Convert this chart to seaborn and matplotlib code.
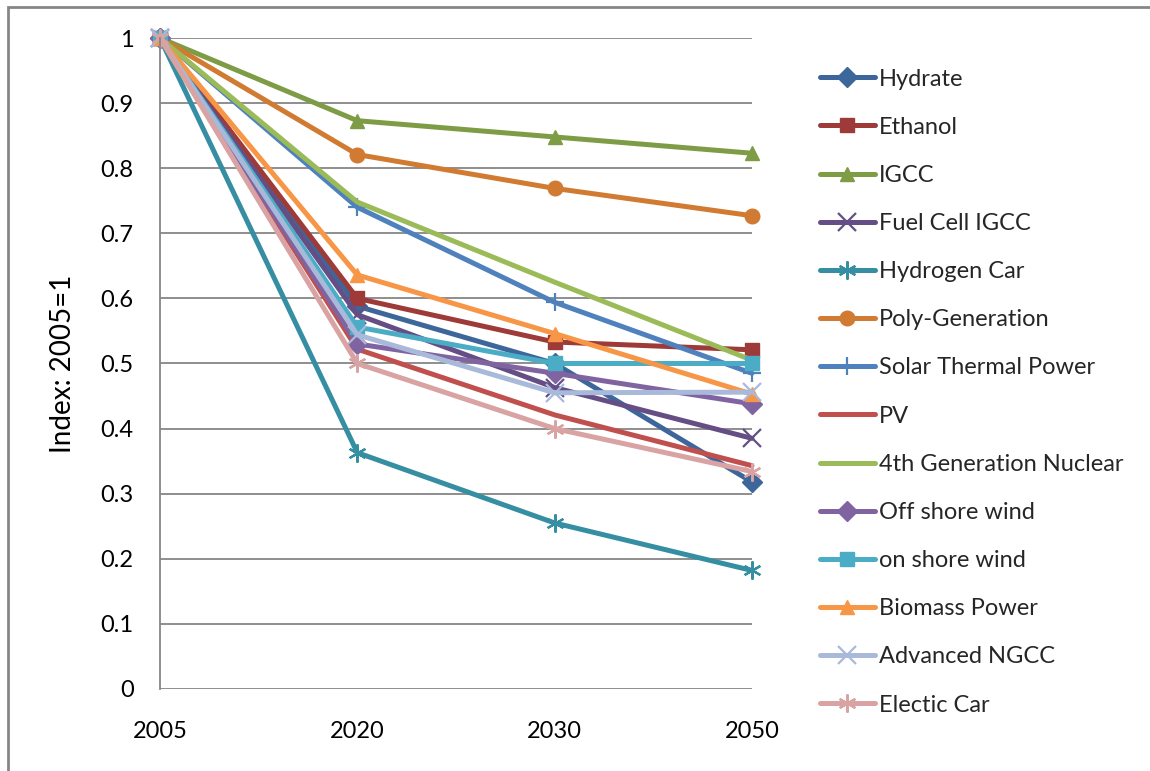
#!/usr/bin/env python3

"""
Cost index of low-carbon technologies, 2005-2050 (2005 = 1).
Draws the line chart with seaborn and saves it as out.png.
"""

import matplotlib
matplotlib.use("Agg")

import matplotlib.pyplot as plt
import pandas as pd
import seaborn as sns
from matplotlib.patches import Rectangle

sns.set_theme(style="white")
plt.rcParams["font.family"] = ["Lato", "DejaVu Sans"]

# --- Data ---
years = ["2005", "2020", "2030", "2050"]

hydrate = [1.0, 0.588, 0.500, 0.318]
ethanol = [1.0, 0.600, 0.533, 0.521]
igcc = [1.0, 0.873, 0.848, 0.823]
fuel_cell_igcc = [1.0, 0.575, 0.463, 0.385]
hydrogen_car = [1.0, 0.363, 0.255, 0.182]
poly_generation = [1.0, 0.821, 0.769, 0.727]
solar_thermal = [1.0, 0.740, 0.594, 0.485]
pv = [1.0, 0.522, 0.421, 0.343]
nuclear_4th = [1.0, 0.748, 0.625, 0.505]
off_shore_wind = [1.0, 0.530, 0.485, 0.438]
on_shore_wind = [1.0, 0.556, 0.500, 0.500]
biomass_power = [1.0, 0.636, 0.546, 0.453]
advanced_ngcc = [1.0, 0.544, 0.455, 0.456]
electric_car = [1.0, 0.500, 0.400, 0.334]

series_names = [
    "Hydrate", "Ethanol", "IGCC", "Fuel Cell IGCC", "Hydrogen Car",
    "Poly-Generation", "Solar Thermal Power", "PV",
    "4th Generation Nuclear", "Off shore wind", "on shore wind",
    "Biomass Power", "Advanced NGCC", "Electic Car",
]
series_values = [
    hydrate, ethanol, igcc, fuel_cell_igcc, hydrogen_car, poly_generation,
    solar_thermal, pv, nuclear_4th, off_shore_wind, on_shore_wind,
    biomass_power, advanced_ngcc, electric_car,
]

# Excel-like series styling
colors = [
    "#3D679A", "#9E3B38", "#7E9C45", "#654E85", "#368EA3", "#D17A31",
    "#4F81BD", "#C0504D", "#9BBB59", "#8064A2", "#4BACC6", "#F79646",
    "#A8B9DA", "#D8A3A2",
]
markers = [
    "D", "s", "^", "x", (6, 2, 0), "o",
    "+", None, None, "D", "s", "^",
    "x", (6, 2, 0),
]

# Long table for seaborn
rows = []
for name, vals in zip(series_names, series_values):
    for i, v in enumerate(vals):
        rows.append({"series": name, "pos": i, "value": v})
df = pd.DataFrame(rows)

fig = plt.figure(figsize=(11.5, 7.71), dpi=100)
ax = fig.add_axes([0.1391, 0.1064, 0.5148, 0.8443])

for name, color, marker in zip(series_names, colors, markers):
    sub = df[df["series"] == name]
    thin = marker in ("x", "+") or isinstance(marker, tuple)
    sns.lineplot(
        data=sub, x="pos", y="value", ax=ax, color=color, label=name,
        linewidth=3.6, marker=marker,
        markersize=13 if thin else 10.5,
        markeredgewidth=1.6 if thin else 1.0,
        markeredgecolor=color, markerfacecolor=color,
        sort=False, solid_joinstyle="round", solid_capstyle="round",
    )

# Axes cosmetics
ax.set_xlim(0, 3)
ax.set_ylim(0, 1)
ax.set_xticks(range(len(years)))
ax.set_xticklabels(years)
ax.set_yticks([i / 10 for i in range(11)])
ax.set_yticklabels(["0"] + [f"{i / 10:g}" for i in range(1, 10)] + ["1"])
ax.tick_params(axis="x", length=0, pad=23, labelsize=17, labelcolor="black")
ax.tick_params(axis="y", length=0, pad=19, labelsize=17, labelcolor="black")
ax.grid(axis="y", color="#868686", linewidth=1.3)
ax.set_axisbelow(True)
ax.set_xlabel("")
ax.set_ylabel("Index: 2005=1", fontsize=20, color="black")
ax.yaxis.set_label_coords(-0.142, 0.5)
for side in ("top", "right", "bottom"):
    ax.spines[side].set_visible(False)
ax.spines["left"].set_color("#868686")
ax.spines["left"].set_linewidth(1.3)
for line in ax.lines:
    line.set_clip_on(False)

ax.legend(
    loc="center left", bbox_to_anchor=(0.713, 0.4915),
    bbox_transform=fig.transFigure, frameon=False, fontsize=17,
    handlelength=2.33, handletextpad=0.17, labelspacing=1.15,
    borderpad=0, borderaxespad=0,
)

# Chart-area border (right and bottom edges fall outside the picture)
fig.patches.append(Rectangle(
    (8 / 1150, -0.05), 1.2, 1 - 7 / 771 + 0.05, transform=fig.transFigure,
    fill=False, edgecolor="#868686", linewidth=2.0,
))

fig.savefig("out.png", dpi=100)
